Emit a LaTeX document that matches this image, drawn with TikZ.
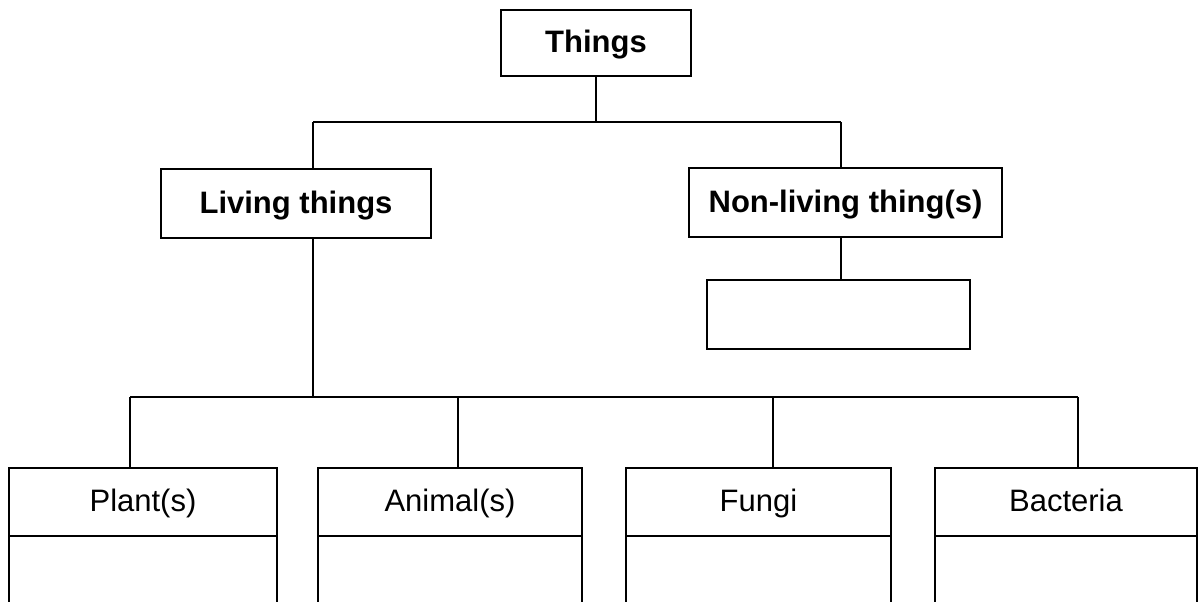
\documentclass[tikz,border=0pt]{standalone}
\usepackage{fontspec}
\setmainfont{Liberation Sans}
\begin{document}
\begin{tikzpicture}[x=1pt,y=-1pt,
  line width=2.4pt,
  box/.style={draw=black, line width=2.4pt, inner sep=0pt, outer sep=0pt, minimum height=68pt,
    text height=22pt, text depth=3pt, font=\fontsize{31}{36}\selectfont},
  boldbox/.style={box, font=\fontsize{31}{36}\selectfont\bfseries},
  conn/.style={draw=black, line width=2.4pt},
  side/.style={draw=black, line width=2.4pt}]
\useasboundingbox[fill=white] (0,0) rectangle (1200,602);

% top level
\node[boldbox, minimum width=190pt, minimum height=66pt] (things) at (596,43) {Things};
\node[boldbox, minimum width=270pt, minimum height=69pt] (living) at (296,203.5) {Living things};
\node[boldbox, minimum width=313pt, minimum height=69pt] (nonliving) at (845.5,202.5) {Non-living thing(s)};
\node[box, minimum width=263pt, minimum height=69pt] (empty) at (838.5,314.5) {};

% bottom row headers
\node[box, minimum width=268pt] (plant) at (143,502) {Plant(s)};
\node[box, minimum width=264pt] (animal) at (450,502) {Animal(s)};
\node[box, minimum width=265pt] (fungi) at (758.5,502) {Fungi};
\node[box, minimum width=262pt] (bacteria) at (1066,502) {Bacteria};

% open lower compartments
\coordinate (bot) at (0,604);
\foreach \n in {plant,animal,fungi,bacteria}{
  \draw[side] (\n.south west) -- (\n.south west |- bot);
  \draw[side] (\n.south east) -- (\n.south east |- bot);
}

% junctions
\coordinate (ja) at (313,122);
\coordinate (jb) at (841,122);
\coordinate (jc) at (130,397);
\coordinate (je) at (458,397);
\coordinate (jf) at (773,397);
\coordinate (jd) at (1078,397);

% connectors
\draw[conn] (things.south) -- (things.south |- ja);
\draw[conn] (ja) -- (jb);
\draw[conn] (ja) -- (ja |- living.north);
\draw[conn] (jb) -- (jb |- nonliving.north);
\draw[conn] (jb |- nonliving.south) -- (jb |- empty.north);
\draw[conn] (ja |- living.south) -- (ja |- jc);
\draw[conn] (jc) -- (jd);
\draw[conn] (jc) -- (jc |- plant.north);
\draw[conn] (je) -- (je |- animal.north);
\draw[conn] (jf) -- (jf |- fungi.north);
\draw[conn] (jd) -- (jd |- bacteria.north);
\end{tikzpicture}
\end{document}
